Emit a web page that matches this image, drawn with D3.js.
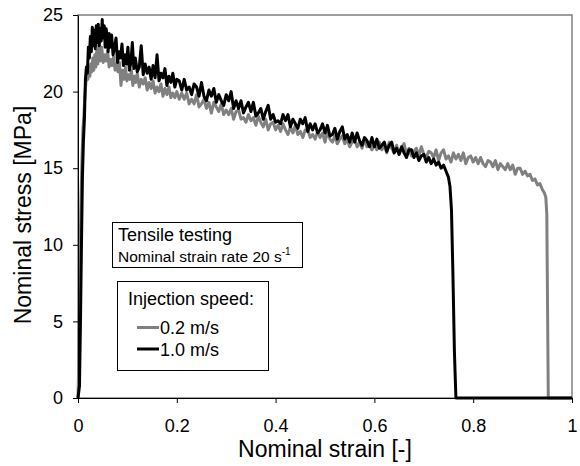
<!DOCTYPE html>
<html>
<head>
<meta charset="utf-8">
<script src="https://cdn.jsdelivr.net/npm/d3@7"></script>
<style>
  body { margin: 0; background: #fff; }
  svg { font-family: "Liberation Sans", Arial, sans-serif; }
</style>
</head>
<body>
<svg id="chart" width="580" height="466"></svg>
<script>
// tick values
var xTicks = [0, 0.2, 0.4, 0.6, 0.8, 1];
var yTicks = [0, 5, 10, 15, 20, 25];

// legend entries
var seriesNames = ["0.2 m/s", "1.0 m/s"];
var seriesColors = ["#808080", "#000000"];

// injection speed 0.2 m/s : [nominal strain, nominal stress MPa]
var speed02 = [
  [0, 0], [0.001, 1.5], [0.002, 4], [0.004, 9], [0.006, 13], [0.008, 15.5], [0.010, 17.5],
  [0.012, 18.5], [0.014, 19.8], [0.016, 20.6], [0.018, 21.0], [0.020, 20.8], [0.022, 21.6],
  [0.024, 21.0], [0.026, 21.8], [0.028, 21.3], [0.030, 22.2], [0.032, 21.4], [0.034, 22.4],
  [0.036, 21.6], [0.038, 22.7], [0.040, 21.8], [0.042, 23.0], [0.045, 22.0], [0.048, 22.9],
  [0.051, 21.9], [0.054, 22.4], [0.057, 22.0], [0.060, 22.6], [0.063, 21.6], [0.066, 22.1],
  [0.069, 21.7], [0.072, 22.3], [0.075, 21.4], [0.078, 21.8], [0.081, 21.3], [0.084, 21.9],
  [0.087, 20.4], [0.090, 21.4], [0.093, 20.8], [0.096, 21.6], [0.099, 20.7], [0.102, 21.1],
  [0.105, 20.8], [0.108, 21.4], [0.111, 20.4], [0.114, 21.0], [0.117, 20.6], [0.120, 21.2],
  [0.124, 20.3], [0.128, 20.8], [0.132, 20.5], [0.136, 20.9], [0.140, 20.1], [0.144, 20.6],
  [0.148, 20.2], [0.152, 20.7], [0.156, 19.9], [0.160, 20.3], [0.164, 20.0], [0.168, 20.5],
  [0.172, 19.7], [0.176, 20.2], [0.180, 19.8], [0.184, 20.3], [0.188, 19.6], [0.192, 19.9],
  [0.196, 19.6], [0.200, 20.0], [0.205, 19.5], [0.210, 19.9], [0.215, 19.5], [0.220, 19.9],
  [0.225, 19.2], [0.230, 19.5], [0.235, 19.2], [0.240, 19.8], [0.245, 19.0], [0.250, 19.2],
  [0.255, 19.5], [0.260, 18.9], [0.265, 19.3], [0.270, 18.6], [0.275, 19.3], [0.280, 19.0],
  [0.285, 18.7], [0.290, 19.2], [0.295, 18.5], [0.300, 18.8], [0.305, 18.5], [0.310, 18.9],
  [0.315, 18.2], [0.320, 18.7], [0.325, 18.8], [0.330, 18.2], [0.335, 18.3], [0.340, 18.0],
  [0.345, 18.5], [0.350, 18.1], [0.355, 18.3], [0.360, 17.8], [0.365, 18.4], [0.370, 18.0],
  [0.375, 17.7], [0.380, 18.2], [0.385, 17.5], [0.390, 17.9], [0.395, 18.0], [0.400, 17.5],
  [0.405, 17.8], [0.410, 17.4], [0.415, 17.9], [0.420, 17.5], [0.425, 17.2], [0.430, 17.7],
  [0.435, 17.3], [0.440, 17.8], [0.445, 17.2], [0.450, 17.4], [0.455, 17.0], [0.460, 17.5],
  [0.465, 17.5], [0.470, 17.0], [0.475, 17.2], [0.480, 16.9], [0.485, 17.4], [0.490, 17.0],
  [0.495, 17.3], [0.500, 16.7], [0.505, 17.4], [0.510, 16.9], [0.515, 16.7], [0.520, 17.1],
  [0.525, 16.6], [0.530, 16.9], [0.535, 17.1], [0.540, 16.6], [0.545, 16.9], [0.550, 16.4],
  [0.555, 16.7], [0.560, 16.9], [0.565, 16.4], [0.570, 16.7], [0.575, 16.3], [0.580, 16.9],
  [0.585, 16.4], [0.590, 16.6], [0.595, 16.2], [0.600, 16.6], [0.605, 16.2], [0.610, 16.7],
  [0.615, 16.2], [0.620, 16.5], [0.625, 16.0], [0.630, 16.7], [0.635, 16.3], [0.640, 16.0],
  [0.645, 16.5], [0.650, 15.9], [0.655, 16.3], [0.660, 16.6], [0.665, 15.9], [0.670, 16.3],
  [0.675, 15.8], [0.680, 16.1], [0.685, 16.3], [0.690, 15.8], [0.695, 16.4], [0.700, 15.9],
  [0.705, 15.7], [0.710, 16.1], [0.715, 16.0], [0.720, 15.7], [0.725, 16.2], [0.730, 15.5],
  [0.735, 16.0], [0.740, 16.2], [0.745, 15.6], [0.750, 15.8], [0.755, 15.4], [0.760, 16.0],
  [0.765, 15.6], [0.770, 15.9], [0.775, 15.5], [0.780, 16.0], [0.785, 15.3], [0.790, 15.7],
  [0.795, 15.8], [0.800, 15.4], [0.805, 15.7], [0.810, 15.3], [0.815, 15.7], [0.820, 15.3],
  [0.825, 15.1], [0.830, 15.5], [0.835, 15.4], [0.840, 15.1], [0.845, 15.5], [0.850, 14.9],
  [0.855, 15.3], [0.860, 15.1], [0.865, 14.9], [0.870, 15.3], [0.875, 14.9], [0.880, 15.2],
  [0.885, 14.6], [0.890, 15.0], [0.895, 15.0], [0.900, 14.6], [0.905, 14.8], [0.910, 14.5],
  [0.915, 14.6], [0.920, 14.2], [0.925, 14.3], [0.930, 13.9], [0.935, 14.0], [0.940, 13.6],
  [0.944, 13.4], [0.947, 13.1], [0.949, 12.0], [0.952, 0], [1.0, 0]
];

// injection speed 1.0 m/s : [nominal strain, nominal stress MPa]
var speed10 = [
  [0, 0], [0.003, 0.8], [0.005, 5], [0.007, 10], [0.009, 14.5], [0.011, 16.8], [0.013, 18.2],
  [0.015, 20.8], [0.017, 21.6], [0.019, 21.2], [0.021, 22.9], [0.023, 22.2], [0.025, 23.6],
  [0.027, 22.6], [0.029, 24.2], [0.031, 23.0], [0.033, 24.0], [0.035, 22.8], [0.037, 24.3],
  [0.039, 23.2], [0.041, 24.4], [0.043, 23.0], [0.045, 24.1], [0.047, 23.3], [0.049, 24.7],
  [0.051, 23.5], [0.053, 24.3], [0.055, 22.9], [0.057, 24.1], [0.059, 23.6], [0.061, 22.6],
  [0.063, 23.8], [0.065, 22.9], [0.068, 23.7], [0.071, 22.4], [0.074, 22.9], [0.077, 23.5],
  [0.080, 21.9], [0.083, 22.6], [0.086, 22.2], [0.089, 23.1], [0.092, 21.7], [0.095, 22.4],
  [0.098, 21.8], [0.101, 22.9], [0.104, 21.4], [0.107, 21.9], [0.110, 23.2], [0.113, 21.5],
  [0.116, 22.2], [0.120, 21.3], [0.124, 21.6], [0.128, 23.0], [0.132, 21.1], [0.136, 21.8],
  [0.140, 21.2], [0.144, 21.6], [0.148, 20.8], [0.152, 21.7], [0.156, 20.9], [0.160, 22.4],
  [0.164, 20.7], [0.168, 21.2], [0.172, 20.9], [0.176, 21.5], [0.180, 20.4], [0.184, 21.0],
  [0.188, 20.6], [0.192, 21.2], [0.196, 20.3], [0.200, 20.8], [0.205, 20.7], [0.210, 20.1],
  [0.215, 20.8], [0.220, 20.1], [0.225, 20.3], [0.230, 19.8], [0.235, 20.5], [0.240, 20.3],
  [0.245, 19.7], [0.250, 20.6], [0.255, 19.7], [0.260, 19.4], [0.265, 20.1], [0.270, 19.7],
  [0.275, 20.2], [0.280, 19.3], [0.285, 19.8], [0.290, 19.4], [0.295, 19.1], [0.300, 19.8],
  [0.305, 19.4], [0.310, 20.0], [0.315, 18.9], [0.320, 19.4], [0.325, 18.9], [0.330, 19.4],
  [0.335, 18.6], [0.340, 19.0], [0.345, 19.3], [0.350, 18.7], [0.355, 19.3], [0.360, 18.4],
  [0.365, 18.6], [0.370, 18.9], [0.375, 18.2], [0.380, 18.7], [0.385, 19.1], [0.390, 18.2],
  [0.395, 18.5], [0.400, 18.0], [0.405, 18.1], [0.410, 17.9], [0.415, 18.5], [0.420, 18.1],
  [0.425, 18.5], [0.430, 17.7], [0.435, 18.2], [0.440, 17.9], [0.445, 17.6], [0.450, 18.2],
  [0.455, 17.9], [0.460, 18.3], [0.465, 17.4], [0.470, 17.9], [0.475, 17.5], [0.480, 17.9],
  [0.485, 17.3], [0.490, 17.5], [0.495, 17.9], [0.500, 17.3], [0.505, 17.8], [0.510, 17.1],
  [0.515, 17.2], [0.520, 17.6], [0.525, 16.9], [0.530, 17.4], [0.535, 17.7], [0.540, 16.9],
  [0.545, 17.2], [0.550, 16.7], [0.555, 17.3], [0.560, 16.7], [0.565, 17.3], [0.570, 16.8],
  [0.575, 16.5], [0.580, 17.0], [0.585, 16.8], [0.590, 16.4], [0.595, 17.0], [0.600, 16.4],
  [0.605, 16.9], [0.610, 16.3], [0.615, 16.5], [0.620, 16.7], [0.625, 16.1], [0.630, 16.5],
  [0.635, 16.7], [0.640, 16.0], [0.645, 16.3], [0.650, 15.9], [0.655, 16.4], [0.660, 16.0],
  [0.665, 15.7], [0.670, 16.2], [0.675, 16.2], [0.680, 15.7], [0.685, 16.0], [0.690, 15.5],
  [0.695, 15.8], [0.700, 15.9], [0.705, 15.4], [0.710, 15.7], [0.715, 15.3], [0.720, 15.6],
  [0.725, 15.2], [0.730, 15.4], [0.735, 15.0], [0.740, 15.2], [0.745, 14.8], [0.750, 14.4],
  [0.753, 13.8], [0.756, 12.3], [0.759, 8.0], [0.762, 3.0], [0.765, 0], [1.0, 0]
];

var series = [speed02, speed10];

var svg = d3.select("#chart");
var margin = { left: 78, right: 8, top: 15, bottom: 68 };
var width = 580 - margin.left - margin.right;
var height = 466 - margin.top - margin.bottom;

var x = d3.scaleLinear().domain([0, 1]).range([margin.left, margin.left + width]);
var y = d3.scaleLinear().domain([0, 25]).range([margin.top + height, margin.top]);

// plot area border (top & right visible in gray)
svg.append("rect")
    .attr("x", x(0)).attr("y", y(25))
    .attr("width", x(1) - x(0)).attr("height", y(0) - y(25))
    .attr("fill", "none").attr("stroke", "#808080").attr("stroke-width", 1.5);

var line = d3.line()
    .x(function (d) { return x(d[0]); })
    .y(function (d) { return y(d[1]); });

svg.append("g").selectAll("path")
    .data(series)
    .enter().append("path")
    .attr("d", line)
    .attr("fill", "none")
    .attr("stroke", function (d, i) { return seriesColors[i]; })
    .attr("stroke-width", 3)
    .attr("stroke-linejoin", "round");

var xAxis = svg.append("g")
    .attr("transform", "translate(0," + y(0) + ")")
    .call(d3.axisBottom(x).tickValues(xTicks).tickSize(5).tickSizeOuter(0).tickPadding(16)
        .tickFormat(function (d) { return d === 0 || d === 1 ? d3.format("d")(d) : d3.format(".1f")(d); }));
var yAxis = svg.append("g")
    .attr("transform", "translate(" + x(0) + ",0)")
    .call(d3.axisLeft(y).tickValues(yTicks).tickSize(5).tickSizeOuter(0).tickPadding(10));

[xAxis, yAxis].forEach(function (g) {
    g.selectAll("text").attr("font-size", 18).attr("fill", "#000").attr("font-family", null);
    g.selectAll("line").attr("stroke", "#000");
    g.select(".domain").attr("stroke", "#000");
    g.attr("font-family", null);
});

svg.append("text")
    .attr("x", (x(0) + x(1)) / 2).attr("y", 457)
    .attr("text-anchor", "middle").attr("font-size", 23)
    .text("Nominal strain [-]");

svg.append("text")
    .attr("transform", "translate(31,215) rotate(-90)")
    .attr("text-anchor", "middle").attr("font-size", 23)
    .text("Nominal stress [MPa]");

// test conditions box
svg.append("rect")
    .attr("x", 112.5).attr("y", 222.5).attr("width", 190).attr("height", 45)
    .attr("fill", "#fff").attr("stroke", "#000").attr("stroke-width", 1);
svg.append("text").attr("x", 118).attr("y", 241).attr("font-size", 18).text("Tensile testing");
var rate = svg.append("text").attr("x", 118).attr("y", 262).attr("font-size", 15.5);
rate.append("tspan").text("Nominal strain rate 20 s");
rate.append("tspan").attr("dy", -7).attr("font-size", 10).text("-1");

// legend
svg.append("rect")
    .attr("x", 117.5).attr("y", 281.5).attr("width", 151).attr("height", 89)
    .attr("fill", "#fff").attr("stroke", "#000").attr("stroke-width", 1);
svg.append("text").attr("x", 128).attr("y", 305).attr("font-size", 18).text("Injection speed:");

var legend = svg.append("g").selectAll("g")
    .data(seriesNames)
    .enter().append("g")
    .attr("transform", function (d, i) { return "translate(0," + (327.5 + i * 21.5) + ")"; });
legend.append("line")
    .attr("x1", 137).attr("x2", 159).attr("y1", 0).attr("y2", 0)
    .attr("stroke", function (d, i) { return seriesColors[i]; })
    .attr("stroke-width", 3);
legend.append("text")
    .attr("x", 160).attr("y", 6.5).attr("font-size", 18)
    .text(function (d) { return d; });
</script>
</body>
</html>
